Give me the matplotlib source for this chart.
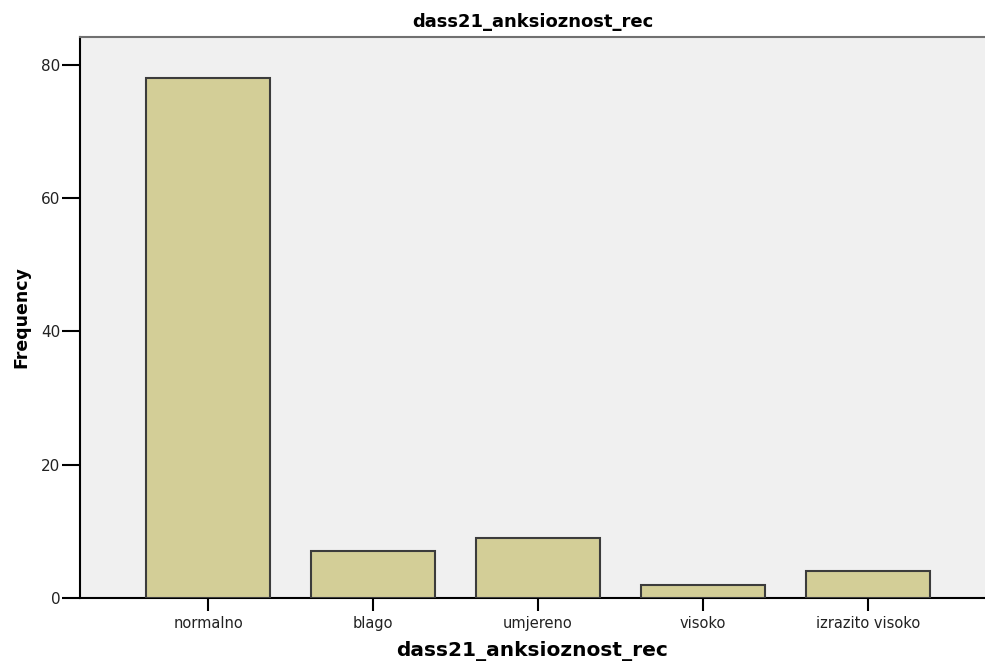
import matplotlib.pyplot as plt
import numpy as np

categories = ["normalno", "blago", "umjereno", "visoko", "izrazito visoko"]
frequency = [78, 7, 9, 2, 4]
yticks = [0, 20, 40, 60, 80]

plt.rcParams["font.family"] = "DejaVu Sans"

fig = plt.figure(figsize=(9.85, 6.61), dpi=100)
ax = fig.add_axes([80 / 985, 63 / 661, 905 / 985, 561 / 661])

x = np.arange(len(categories))
ax.bar(x, frequency, width=0.75, color="#d3ce97", edgecolor="#3c3c3c",
       linewidth=1.5, zorder=3)

ax.set_facecolor("#f0f0f0")
ax.set_xlim(-0.776, 4.709)
ax.set_ylim(0, 84.2)
ax.set_xticks(x)
ax.set_xticklabels(categories, fontsize=10.5, color="#222222")
ax.set_yticks(yticks)
ax.set_yticklabels([str(v) for v in yticks], fontsize=11, color="#222222")
ax.tick_params(axis="y", length=13, width=1.5, pad=1)
ax.tick_params(axis="x", length=9, width=1.5, pad=4)

ax.spines["left"].set_linewidth(1.5)
ax.spines["bottom"].set_linewidth(1.5)
ax.spines["top"].set_color("#707070")
ax.spines["top"].set_linewidth(1.5)
ax.spines["right"].set_visible(False)

ax.set_title("dass21_anksioznost_rec", fontsize=13, fontweight="bold", pad=7)
ax.set_xlabel("dass21_anksioznost_rec", fontsize=14.5, fontweight="bold", labelpad=7)
ax.set_ylabel("Frequency", fontsize=12.5, fontweight="bold", labelpad=8)

fig.savefig("out.png", dpi=100)
